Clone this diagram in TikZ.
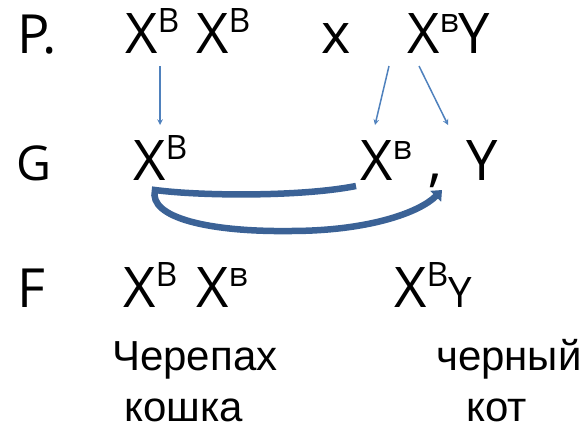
\documentclass[tikz,border=0pt]{standalone}
\usepackage{fontspec}
\setmainfont{Open Sans}
\newfontfamily\cyrfont{Liberation Sans}
\usetikzlibrary{arrows, arrows.meta}
\definecolor{thinblue}{HTML}{4F81BD}
\definecolor{swoopblue}{HTML}{3B6296}
\newcommand{\hi}[1]{\raisebox{0.36em}{\scalebox{0.6}{#1}}}
\tikzstyle{gene} = [inner sep=0pt, anchor=base west, font=\fontsize{56}{60}\selectfont]
\tikzstyle{rowname} = [inner sep=0pt, anchor=base west, font=\fontsize{54}{60}\selectfont]
\tikzstyle{word} = [inner sep=0pt, anchor=base west, font=\cyrfont\fontsize{42}{46}\selectfont]
\tikzstyle{arrow} = [thinblue, line width=1.5pt, ->, >=stealth]
\tikzstyle{swoop} = [swoopblue, line width=6.5pt, -{Triangle[length=9pt,width=15pt]}]

\begin{document}
\begin{tikzpicture}[x=1pt, y=-1pt]
    \useasboundingbox (0,0) rectangle (583,429);
    % Parents
    \node (P) [rowname] at (17,53) {P.};
    \node (P1) [gene] at (125,53) {X\hi{B}};
    \node (P2) [gene] at (196,53) {X\hi{B}};
    \node (Px) [gene] at (321,53) {x};
    \node (P3) [gene] at (407,53) {X\hi{в}Y};

    % Gametes
    \node (G) [rowname, font=\fontsize{48}{52}\selectfont] at (16,180) {G};
    \node (G1) [gene] at (133,180) {X\hi{B}};
    \node (G2) [gene] at (360,180) {X\hi{в}};
    \node (Gc) [gene] at (428,180) {,};
    \node (G3) [gene] at (466,180) {Y};

    % Offspring
    \node (F) [rowname] at (17,307) {F};
    \node (F1) [gene] at (123,307) {X\hi{B}};
    \node (F2) [gene] at (196,307) {X\hi{в}};
    \node (F3) [gene] at (394,307) {X\hi{B}{\fontsize{42}{46}\selectfont Y}};

    \node (T1) [word] at (112,370) {Черепах};
    \node (T2) [word] at (124,421) {кошка};
    \node (T3) [word] at (436,370) {черный};
    \node (T4) [word] at (466,421) {кот};

    % Arrows
    \draw [arrow] ([shift={(35,13)}]P1.base west) -- ([shift={(27,-55)}]G1.base west);
    \draw [arrow] ([shift={(-18,13)}]P3.base west) -- ([shift={(15,-55)}]G2.base west);
    \draw [arrow] ([shift={(12,13)}]P3.base west) -- ([shift={(-18,-55)}]G3.base west);

    \draw [swoop] ([shift={(-4,6)}]G2.base west)
        .. controls (300,197) and (200,196) .. ([shift={(22,10)}]G1.base west)
        .. controls (148,218) and (210,232) .. (290,231)
        .. controls (370,231) and (420,212) .. ([shift={(-24,10)}]G3.base west);
\end{tikzpicture}
\end{document}
